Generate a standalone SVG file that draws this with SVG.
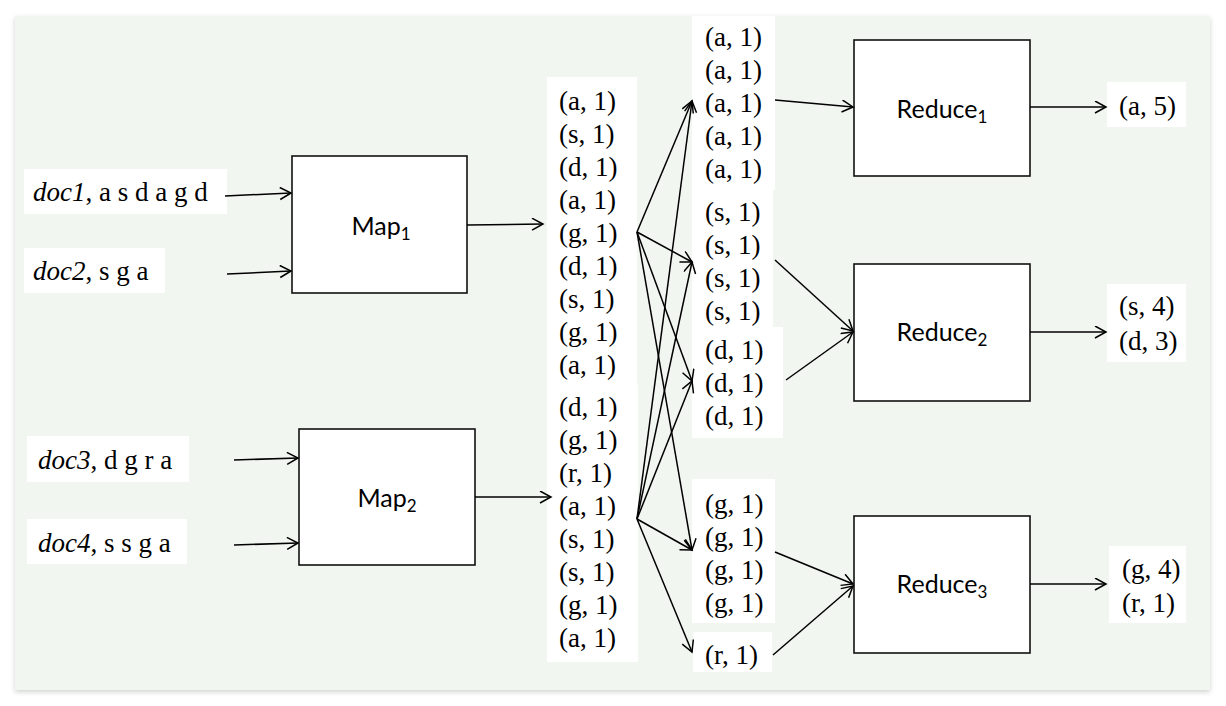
<svg xmlns="http://www.w3.org/2000/svg" width="1226" height="706" viewBox="0 0 1226 706">
<defs>
<filter id="sh" x="-5%" y="-5%" width="110%" height="110%"><feDropShadow dx="0" dy="2" stdDeviation="2.5" flood-color="#000" flood-opacity="0.18"/></filter>
<marker id="ah" markerUnits="userSpaceOnUse" markerWidth="14" markerHeight="14" viewBox="0 0 14 14" refX="12" refY="6.5" orient="auto"><path d="M1,0.5 L12,6.5 L1,12.5" fill="none" stroke="#000" stroke-width="1.5"/></marker>
<style>
.ser{font-family:"Liberation Serif","Times New Roman",serif;font-size:27px;fill:#000}
.it{font-style:italic}
.san{font-family:Lato,"Noto Sans",sans-serif;font-size:25px;fill:#000;text-anchor:middle}
.sub{font-size:17px}
.box{fill:#fff;stroke:#111;stroke-width:1.6}
.wb{fill:#fff}
.c{stroke:#000;stroke-width:1.5;fill:none;marker-end:url(#ah)}
</style>
</defs>
<rect width="1226" height="706" fill="#fff"/>
<rect x="15" y="16" width="1195" height="674" fill="#f2f6f1" filter="url(#sh)"/>

<g id="doc1"><rect class="wb" x="24" y="169" width="203" height="45"/><text class="ser" x="33" y="201"><tspan class="it">doc1</tspan>, a s d a g d</text></g>
<g id="doc2"><rect class="wb" x="24" y="248" width="141" height="45"/><text class="ser" x="33" y="280"><tspan class="it">doc2</tspan>, s g a</text></g>
<g id="doc3"><rect class="wb" x="27" y="436" width="162" height="46"/><text class="ser" x="38" y="469"><tspan class="it">doc3</tspan>, d g r a</text></g>
<g id="doc4"><rect class="wb" x="27" y="519" width="160" height="45"/><text class="ser" x="38" y="552"><tspan class="it">doc4</tspan>, s s g a</text></g>

<g id="map1"><rect class="box" x="292" y="156" width="175" height="137"/><text class="san" x="381" y="235">Map<tspan class="sub" dy="5">1</tspan></text></g>
<g id="map2"><rect class="box" x="299" y="429" width="176" height="136"/><text class="san" x="387" y="507">Map<tspan class="sub" dy="5">2</tspan></text></g>

<g id="mapout1"><rect class="wb" x="547" y="77" width="90" height="308"/>
<text class="ser" x="559" y="110">(a, 1)</text><text class="ser" x="559" y="143">(s, 1)</text><text class="ser" x="559" y="176">(d, 1)</text><text class="ser" x="559" y="209">(a, 1)</text><text class="ser" x="559" y="242">(g, 1)</text><text class="ser" x="559" y="275">(d, 1)</text><text class="ser" x="559" y="308">(s, 1)</text><text class="ser" x="559" y="341">(g, 1)</text><text class="ser" x="559" y="374">(a, 1)</text></g>
<g id="mapout2"><rect class="wb" x="547" y="385" width="91" height="277"/>
<text class="ser" x="559" y="416">(d, 1)</text><text class="ser" x="559" y="449">(g, 1)</text><text class="ser" x="559" y="482">(r, 1)</text><text class="ser" x="559" y="515">(a, 1)</text><text class="ser" x="559" y="548">(s, 1)</text><text class="ser" x="559" y="581">(s, 1)</text><text class="ser" x="559" y="614">(g, 1)</text><text class="ser" x="559" y="647">(a, 1)</text></g>

<g id="group-a"><rect class="wb" x="692" y="16" width="83" height="174"/>
<text class="ser" x="705" y="46">(a, 1)</text><text class="ser" x="705" y="79">(a, 1)</text><text class="ser" x="705" y="112">(a, 1)</text><text class="ser" x="705" y="145">(a, 1)</text><text class="ser" x="705" y="178">(a, 1)</text></g>
<g id="group-s"><rect class="wb" x="692" y="190" width="81" height="137"/>
<text class="ser" x="705" y="221">(s, 1)</text><text class="ser" x="705" y="254">(s, 1)</text><text class="ser" x="705" y="287">(s, 1)</text><text class="ser" x="705" y="320">(s, 1)</text></g>
<g id="group-d"><rect class="wb" x="692" y="327" width="91" height="111"/>
<text class="ser" x="705" y="359">(d, 1)</text><text class="ser" x="705" y="392">(d, 1)</text><text class="ser" x="705" y="425">(d, 1)</text></g>
<g id="group-g"><rect class="wb" x="692" y="479" width="83" height="144"/>
<text class="ser" x="705" y="513">(g, 1)</text><text class="ser" x="705" y="546">(g, 1)</text><text class="ser" x="705" y="579">(g, 1)</text><text class="ser" x="705" y="612">(g, 1)</text></g>
<g id="group-r"><rect class="wb" x="693" y="632" width="79" height="40"/>
<text class="ser" x="705" y="664">(r, 1)</text></g>

<g id="reduce1"><rect class="box" x="854" y="40" width="176" height="136"/><text class="san" x="942" y="118">Reduce<tspan class="sub" dy="5">1</tspan></text></g>
<g id="reduce2"><rect class="box" x="854" y="264" width="176" height="137"/><text class="san" x="942" y="341">Reduce<tspan class="sub" dy="5">2</tspan></text></g>
<g id="reduce3"><rect class="box" x="854" y="516" width="176" height="137"/><text class="san" x="942" y="593">Reduce<tspan class="sub" dy="5">3</tspan></text></g>

<g id="out1"><rect class="wb" x="1107" y="82" width="79" height="45"/><text class="ser" x="1119" y="115">(a, 5)</text></g>
<g id="out2"><rect class="wb" x="1107" y="284" width="79" height="78"/><text class="ser" x="1119" y="315">(s, 4)</text><text class="ser" x="1119" y="350">(d, 3)</text></g>
<g id="out3"><rect class="wb" x="1109" y="546" width="77" height="77"/><text class="ser" x="1122" y="578">(g, 4)</text><text class="ser" x="1122" y="612">(r, 1)</text></g>

<g id="connectors">
<line class="c" x1="225" y1="196" x2="291" y2="193"/>
<line class="c" x1="227" y1="274" x2="291" y2="271"/>
<line class="c" x1="234" y1="460" x2="298" y2="458"/>
<line class="c" x1="234" y1="545" x2="298" y2="543"/>
<line class="c" x1="467" y1="225" x2="543" y2="224"/>
<line class="c" x1="475" y1="497" x2="551" y2="497"/>
<line class="c" x1="637" y1="232" x2="692" y2="101"/>
<line class="c" x1="637" y1="232" x2="692" y2="262"/>
<line class="c" x1="637" y1="232" x2="692" y2="381"/>
<line class="c" x1="637" y1="232" x2="692" y2="550"/>
<line class="c" x1="637" y1="519" x2="692" y2="101"/>
<line class="c" x1="637" y1="519" x2="692" y2="262"/>
<line class="c" x1="637" y1="519" x2="692" y2="381"/>
<line class="c" x1="637" y1="519" x2="692" y2="550"/>
<line class="c" x1="637" y1="519" x2="692" y2="652"/>
<line class="c" x1="775" y1="100" x2="853" y2="107"/>
<line class="c" x1="775" y1="260" x2="853" y2="331"/>
<line class="c" x1="786" y1="380" x2="853" y2="332"/>
<line class="c" x1="775" y1="552" x2="853" y2="584"/>
<line class="c" x1="773" y1="655" x2="853" y2="586"/>
<line class="c" x1="1030" y1="107" x2="1106" y2="107"/>
<line class="c" x1="1030" y1="332" x2="1106" y2="332"/>
<line class="c" x1="1030" y1="584" x2="1106" y2="584"/>
</g>
</svg>
